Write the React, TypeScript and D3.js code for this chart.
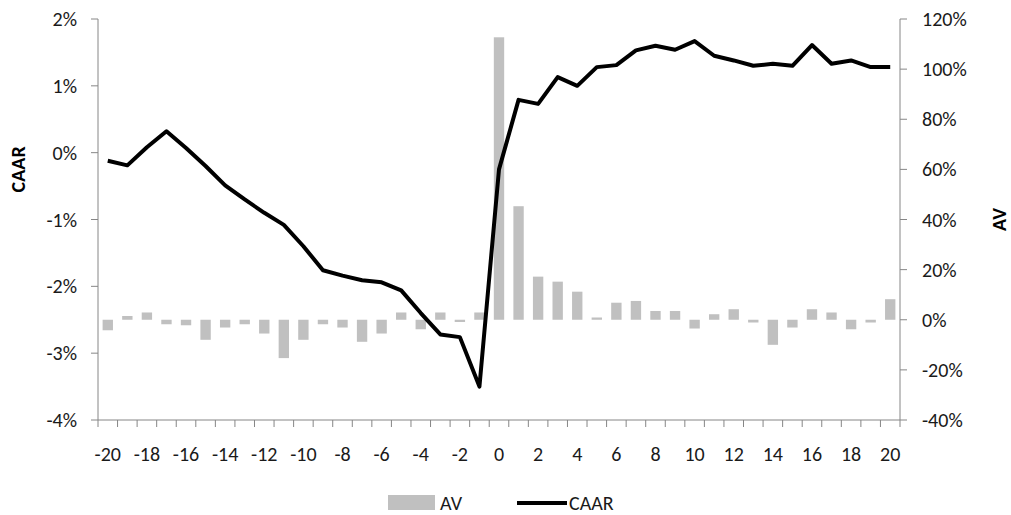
import React from "react";
import * as d3 from "d3";

const categories: number[] = d3.range(-20, 21);
const caar: number[] = [
  -0.12, -0.19, 0.08, 0.32, 0.07, -0.2, -0.49, -0.7, -0.9, -1.08, -1.4, -1.76, -1.84, -1.91, -1.94, -2.06, -2.4, -2.72, -2.76, -3.5,
  -0.25, 0.79, 0.73, 1.13, 1.0, 1.28, 1.31, 1.53, 1.6, 1.54, 1.67, 1.45, 1.38, 1.3, 1.33, 1.3, 1.61, 1.33, 1.38, 1.28, 1.28,
];
const av: number[] = [
  -4.2, 1.5, 2.9, -1.8, -2.2, -8.0, -3.1, -1.8, -5.5, -15.3, -8.0, -1.8, -3.1, -8.8, -5.5, 2.9, -3.8, 2.9, -0.9, 2.9,
  112.7, 45.3, 17.2, 15.2, 11.2, 0.9, 6.8, 7.5, 3.5, 3.5, -3.5, 2.2, 4.2, -1.1, -10.0, -3.1, 4.2, 2.9, -3.8, -1.1, 8.2,
];
const leftTicks: number[] = [-4, -3, -2, -1, 0, 1, 2];
const rightTicks: number[] = [-40, -20, 0, 20, 40, 60, 80, 100, 120];
const xLabels: number[] = d3.range(-20, 21, 2);

const W = 1011;
const H = 515;
const FONT = "Carlito, 'Liberation Sans Narrow', 'Arial Narrow', 'Liberation Sans', sans-serif";
const TEXT = "#1a1a1a";
const AXIS = "#868686";
const FS = 20;

export default function App() {
  const left = 98, right = 900, top = 19, bottom = 420;
  const x = d3.scaleBand<number>().domain(categories).range([left, right]).paddingInner(0.47).paddingOuter(0.235);
  const yL = d3.scaleLinear().domain([-4, 2]).range([bottom, top]);
  const yR = d3.scaleLinear().domain([-40, 120]).range([bottom, top]);
  const step = x.step();
  const cx = (c: number) => (x(c) as number) + x.bandwidth() / 2;
  const line = d3
    .line<number>()
    .x((_, i) => cx(categories[i]))
    .y((d) => yL(d));
  const boundaries = d3.range(categories.length + 1).map((i) => left + i * step);

  return (
    <svg width={W} height={H} style={{ position: "absolute", left: 0, top: 0, background: "#fff" }} fontFamily={FONT}>
      {/* bars */}
      {av.map((v, i) => (
        <rect
          key={i}
          x={x(categories[i])}
          width={x.bandwidth()}
          y={Math.min(yR(v), yR(0))}
          height={Math.abs(yR(v) - yR(0))}
          fill="#c0c0c0"
        />
      ))}
      {/* line */}
      <path d={line(caar) || ""} fill="none" stroke="#000" strokeWidth={4} strokeLinejoin="round" />

      {/* left axis */}
      <line x1={left} x2={left} y1={top} y2={bottom} stroke={AXIS} strokeWidth={1} />
      {leftTicks.map((t) => (
        <g key={t}>
          <line x1={left - 7} x2={left} y1={yL(t)} y2={yL(t)} stroke={AXIS} />
          <text x={77} y={yL(t)} dy="0.35em" textAnchor="end" fontSize={FS} fill={TEXT}>
            {t}%
          </text>
        </g>
      ))}
      {/* right axis */}
      <line x1={right} x2={right} y1={top} y2={bottom} stroke={AXIS} strokeWidth={1} />
      {rightTicks.map((t) => (
        <g key={t}>
          <line x1={right} x2={right + 7} y1={yR(t)} y2={yR(t)} stroke={AXIS} />
          <text x={922} y={yR(t)} dy="0.35em" textAnchor="start" fontSize={FS} fill={TEXT}>
            {t}%
          </text>
        </g>
      ))}
      {/* bottom axis */}
      <line x1={left} x2={right} y1={bottom} y2={bottom} stroke={AXIS} />
      {boundaries.map((b, i) => (
        <line key={i} x1={b} x2={b} y1={bottom} y2={bottom + 7} stroke={AXIS} />
      ))}
      {xLabels.map((c) => (
        <text key={c} x={cx(c)} y={454} dy="0.35em" textAnchor="middle" fontSize={FS} fill={TEXT}>
          {c}
        </text>
      ))}
      {/* axis titles */}
      <text transform={`translate(25,${yL(-0.25)}) rotate(-90)`} textAnchor="middle" fontSize={FS} fontWeight="bold" fill="#000">
        CAAR
      </text>
      <text transform={`translate(1006,${yR(40)}) rotate(-90)`} textAnchor="middle" fontSize={FS} fontWeight="bold" fill="#000">
        AV
      </text>
      {/* legend */}
      <rect x={388} y={495} width={47} height={15} fill="#c0c0c0" />
      <text x={440} y={503} dy="0.35em" fontSize={FS} fill={TEXT}>AV</text>
      <line x1={517} x2={567} y1={503} y2={503} stroke="#000" strokeWidth={4} />
      <text x={569} y={503} dy="0.35em" fontSize={FS} fill={TEXT}>CAAR</text>
    </svg>
  );
}
